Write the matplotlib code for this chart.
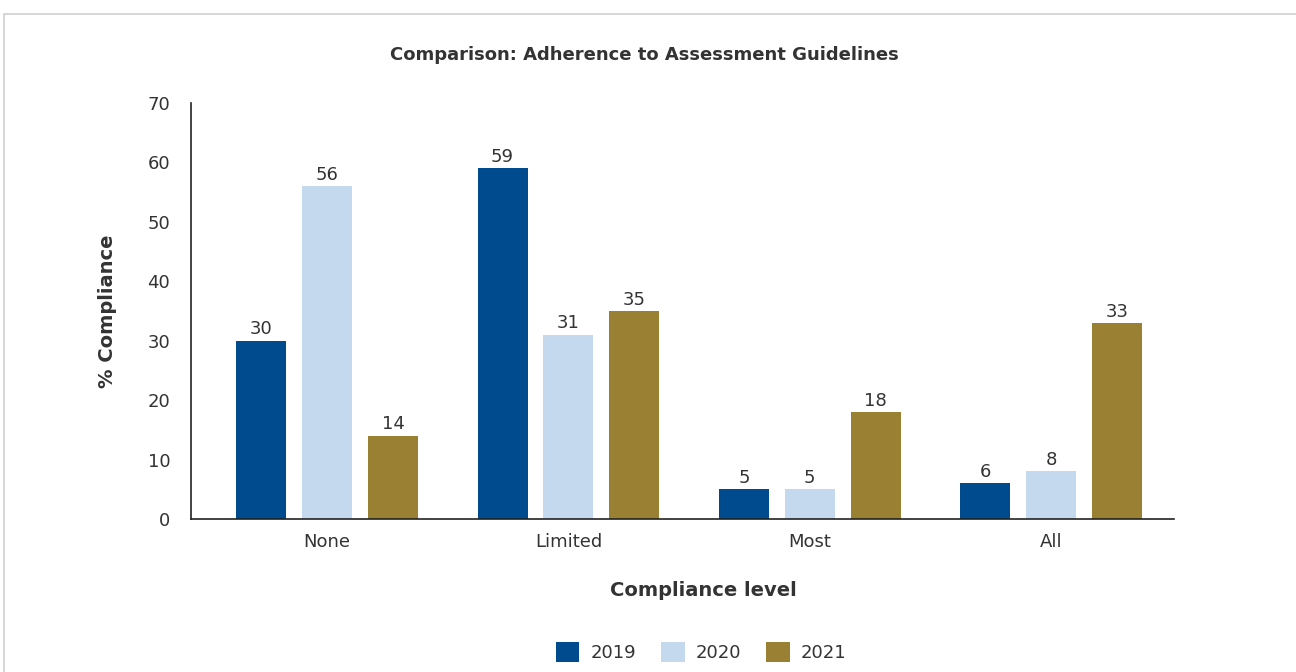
import matplotlib.pyplot as plt
from matplotlib.patches import Rectangle
import numpy as np

# Compliance data by level and year
levels = ["None", "Limited", "Most", "All"]
years = ["2019", "2020", "2021"]
values_2019 = [30, 59, 5, 6]
values_2020 = [56, 31, 5, 8]
values_2021 = [14, 35, 18, 33]

colors = ["#004B8D", "#C5D9EE", "#998033"]

plt.rcParams['font.family'] = ['DejaVu Sans']
text_color = "#333333"

fig = plt.figure(figsize=(12.96, 6.72), dpi=100)
ax = fig.add_axes([0.1474, 0.2277, 0.7585, 0.619])

# light grey frame around the chart area
fig.patches.append(Rectangle((4 / 1296, -0.1), 1.2, 1.1 - 14 / 672, transform=fig.transFigure,
                             fill=False, edgecolor="#cfcfcf", linewidth=1.2))

x = np.arange(len(levels))
bar_width = 0.207
offset = 0.273

for i, (vals, year) in enumerate(zip([values_2019, values_2020, values_2021], years)):
    bars = ax.bar(x + (i - 1) * offset, vals, bar_width, color=colors[i], label=year)
    for bar, v in zip(bars, vals):
        ax.text(bar.get_x() + bar.get_width() / 2, v + 0.4, str(v),
                ha="center", va="bottom", fontsize=13, color=text_color)

ax.set_xlim(-0.564, 3.51)
ax.set_ylim(0, 70)
ax.set_yticks(range(0, 71, 10))
ax.set_xticks(x)
ax.set_xticklabels(levels)
ax.tick_params(axis="both", length=0, labelsize=13, colors=text_color, pad=10)
ax.tick_params(axis="y", pad=15)

for side in ["top", "right"]:
    ax.spines[side].set_visible(False)
for side in ["left", "bottom"]:
    ax.spines[side].set_color("#222222")
    ax.spines[side].set_linewidth(1.2)

fig.text(644 / 1296, 1 - 55 / 672, "Comparison: Adherence to Assessment Guidelines",
         ha="center", va="center", fontsize=13, fontweight="bold", color=text_color)
ax.set_ylabel("% Compliance", fontsize=14, fontweight="bold", color=text_color,
              va="center")
ax.yaxis.set_label_coords(-(191 - 107) / 983, 0.5)
fig.text(703 / 1296, 1 - 590 / 672, "Compliance level", ha="center", va="center",
         fontsize=14, fontweight="bold", color=text_color)

leg = fig.legend(loc="center", bbox_to_anchor=(701 / 1296, 1 - 652 / 672), ncol=3,
                 frameon=False, fontsize=13, handlelength=1.3, handleheight=1.3,
                 columnspacing=1.4, handletextpad=0.6)
for t in leg.get_texts():
    t.set_color(text_color)

fig.savefig("out.png", dpi=100)
